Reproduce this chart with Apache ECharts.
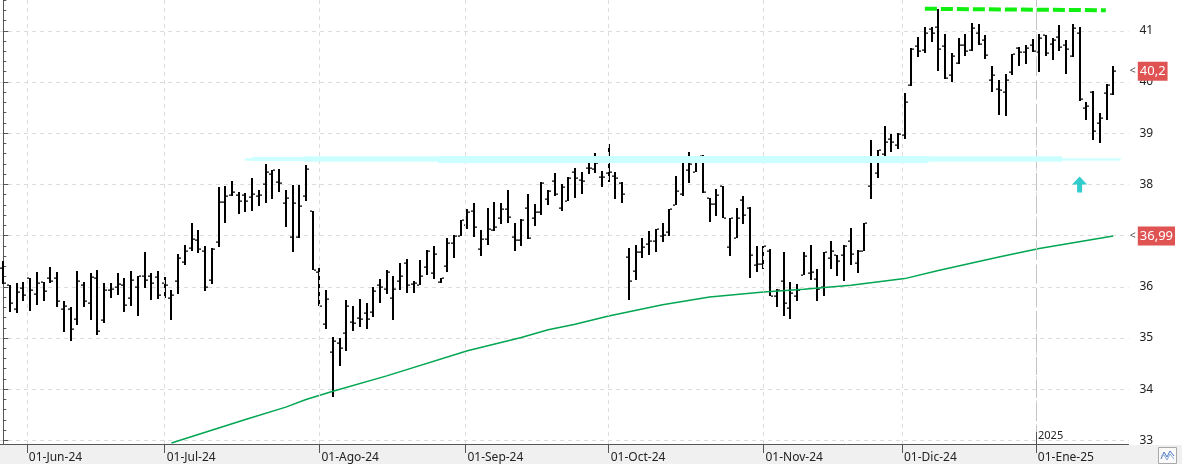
<!DOCTYPE html>
<html><head><meta charset="utf-8">
<script src="https://cdn.jsdelivr.net/npm/echarts@6/dist/echarts.min.js"></script>
<style>html,body{margin:0;padding:0;background:#fff}#c{width:1182px;height:469px}</style>
</head><body><div id="c"></div>
<script>
// ---- DATA ----
const dates = [
'28/05/24','29/05/24','30/05/24','31/05/24',
'03/06/24','04/06/24','05/06/24','06/06/24','07/06/24','10/06/24','11/06/24','12/06/24','13/06/24','14/06/24','17/06/24','18/06/24','19/06/24','20/06/24','21/06/24','24/06/24','25/06/24','26/06/24','27/06/24','28/06/24',
'01/07/24','02/07/24','03/07/24','04/07/24','05/07/24','08/07/24','09/07/24','10/07/24','11/07/24','12/07/24','15/07/24','16/07/24','17/07/24','18/07/24','19/07/24','22/07/24','23/07/24','24/07/24','25/07/24','26/07/24','29/07/24','30/07/24','31/07/24',
'01/08/24','02/08/24','05/08/24','06/08/24','07/08/24','08/08/24','09/08/24','12/08/24','13/08/24','14/08/24','15/08/24','16/08/24','19/08/24','20/08/24','21/08/24','22/08/24','23/08/24','26/08/24','27/08/24','28/08/24','29/08/24','30/08/24',
'02/09/24','03/09/24','04/09/24','05/09/24','06/09/24','09/09/24','10/09/24','11/09/24','12/09/24','13/09/24','16/09/24','17/09/24','18/09/24','19/09/24','20/09/24','23/09/24','24/09/24','25/09/24','26/09/24','27/09/24','30/09/24',
'01/10/24','02/10/24','03/10/24','04/10/24','07/10/24','08/10/24','09/10/24','10/10/24','11/10/24','14/10/24','15/10/24','16/10/24','17/10/24','18/10/24','21/10/24','22/10/24','23/10/24','24/10/24','25/10/24','28/10/24','29/10/24','30/10/24','31/10/24',
'01/11/24','04/11/24','05/11/24','06/11/24','07/11/24','08/11/24','11/11/24','12/11/24','13/11/24','14/11/24','15/11/24','18/11/24','19/11/24','20/11/24','21/11/24','22/11/24','25/11/24','26/11/24','27/11/24','28/11/24','29/11/24',
'02/12/24','03/12/24','04/12/24','05/12/24','06/12/24','09/12/24','10/12/24','11/12/24','12/12/24','13/12/24','16/12/24','17/12/24','18/12/24','19/12/24','20/12/24','23/12/24','24/12/24','27/12/24','30/12/24','31/12/24',
'02/01/25','03/01/25','06/01/25','07/01/25','08/01/25','09/01/25','10/01/25','13/01/25','14/01/25','15/01/25','16/01/25','17/01/25'];

const open = [36.37,36.03,35.57,35.97,36.17,35.86,36.09,36.18,36.18,35.57,35.57,35.37,36.03,35.69,36.18,35.35,35.94,36.00,36.03,35.78,35.99,36.21,36.21,36.20,
36.08,35.78,36.12,36.49,36.76,36.91,36.70,36.14,36.88,37.65,37.79,37.80,37.79,37.76,37.77,38.00,38.21,38.05,37.64,36.97,36.97,37.77,37.49,
36.28,35.28,34.72,34.91,35.09,35.32,35.40,35.49,35.50,36.03,35.96,35.79,36.12,36.46,36.06,36.03,36.39,36.26,36.09,36.40,36.86,37.00,
37.20,37.48,36.74,36.93,37.10,37.34,37.51,36.98,36.91,37.53,37.34,37.47,37.71,38.07,37.54,37.68,38.25,38.09,38.32,38.30,38.15,
38.23,38.17,38.02,36.59,36.30,36.67,36.83,36.89,36.99,37.07,37.60,37.81,38.28,38.25,38.56,37.74,37.62,37.97,36.77,36.95,37.69,37.54,36.43,
36.45,36.69,35.83,36.12,35.59,35.83,36.24,36.26,36.16,35.99,36.57,36.63,36.63,36.89,36.46,36.70,37.96,38.22,38.59,38.88,38.77,
38.96,39.95,40.71,40.62,41.03,41.07,40.71,40.14,40.38,40.72,40.62,40.95,40.82,40.04,39.87,39.81,40.20,40.67,40.59,40.72,
40.59,40.91,40.75,40.88,40.73,40.50,40.95,39.50,39.81,39.19,39.78,39.76];

const high = [36.50,36.03,36.08,36.10,36.18,36.28,36.10,36.38,36.28,35.73,35.60,36.30,36.10,36.26,36.32,36.08,36.08,36.26,36.18,36.30,36.22,36.67,36.26,36.30,
36.20,35.93,36.65,36.81,37.24,37.10,36.79,36.75,37.94,37.96,38.06,37.86,37.83,38.13,37.90,38.39,38.29,38.31,37.90,37.99,37.99,38.38,37.49,
36.37,35.94,35.02,35.00,35.74,35.63,35.76,35.68,36.00,36.16,36.32,36.21,36.46,36.54,36.11,36.52,36.72,36.79,36.18,36.95,37.01,37.31,
37.52,37.64,37.11,37.53,37.66,37.64,37.89,37.24,37.32,37.81,37.61,38.04,37.89,38.22,38.01,38.14,38.32,38.24,38.48,38.61,38.26,
38.79,38.25,38.04,36.76,36.82,36.95,37.09,37.13,37.24,37.52,38.17,38.46,38.63,38.52,38.58,37.74,37.91,37.97,37.35,37.53,37.77,37.55,36.79,
36.79,36.73,35.96,36.67,36.10,36.05,36.67,36.81,36.34,36.67,36.90,36.63,36.82,37.15,36.71,37.24,38.87,38.67,39.14,38.98,39.00,
39.78,40.66,40.88,41.07,41.07,41.42,40.94,40.56,40.85,40.93,41.16,41.14,40.92,40.31,40.04,40.15,40.54,40.69,40.72,40.83,
40.93,40.92,40.85,41.11,40.82,41.13,41.07,39.60,39.82,39.39,39.97,40.31];

const low = [36.06,35.50,35.49,35.73,35.52,35.65,35.72,36.08,35.60,35.11,34.94,35.25,35.60,35.35,35.06,35.30,35.78,35.84,35.50,35.62,35.43,35.98,35.74,35.76,
35.78,35.36,35.85,36.42,36.70,36.66,35.92,36.05,36.78,37.24,37.77,37.43,37.46,37.48,37.58,37.64,37.71,37.85,37.17,36.67,36.96,37.68,36.32,
35.62,35.17,33.85,34.46,34.75,35.14,35.22,35.18,35.41,35.69,35.86,35.36,35.94,35.88,35.88,36.03,36.24,36.16,36.08,36.28,36.57,36.99,
37.13,36.98,36.61,36.82,37.08,37.23,37.25,36.70,36.80,36.93,37.19,37.41,37.60,37.78,37.48,37.68,37.74,37.81,38.20,38.22,37.94,
38.04,37.72,37.64,35.74,36.13,36.56,36.62,36.68,36.88,36.99,37.59,37.77,38.02,38.25,37.84,37.27,37.38,37.34,36.60,36.95,37.22,36.17,36.29,
36.35,35.82,35.60,35.42,35.37,35.72,36.24,36.14,35.72,35.82,36.35,36.21,36.11,36.43,36.27,36.70,37.71,38.12,38.49,38.64,38.69,
38.88,39.93,40.49,40.56,40.79,40.22,40.06,39.99,40.36,40.51,40.61,40.73,40.45,39.81,39.35,39.34,40.14,40.32,40.36,40.59,
40.20,40.51,40.43,40.61,40.16,40.49,39.63,39.26,38.87,38.80,39.26,39.75];

const close = [36.07,35.69,35.90,35.84,35.94,36.08,35.92,36.12,35.73,35.63,35.18,36.12,35.72,36.20,35.14,35.94,35.95,36.06,35.64,36.14,36.21,36.14,36.08,35.84,
36.03,35.84,36.57,36.70,36.94,36.74,35.99,36.74,37.65,37.78,37.85,37.68,37.68,37.82,37.80,38.25,38.29,38.03,37.74,37.64,37.57,38.30,36.32,
35.63,35.77,34.95,34.81,35.63,35.30,35.37,35.37,35.91,35.99,36.28,35.96,36.22,36.04,36.08,36.22,36.69,36.65,36.18,36.85,36.99,37.30,
37.47,37.16,36.93,37.12,37.16,37.51,37.36,36.91,37.30,36.95,37.47,38.02,37.88,37.81,37.94,38.13,38.13,38.07,38.32,38.41,38.14,
38.24,38.13,37.81,36.12,36.67,36.78,36.89,37.12,37.02,37.51,37.88,38.45,38.39,38.50,37.85,37.62,37.79,37.34,37.34,37.35,37.40,36.62,36.45,
36.79,35.83,35.94,35.69,35.88,35.94,36.60,36.28,35.96,36.67,36.69,36.51,36.80,36.64,36.69,37.24,38.51,38.67,38.82,38.82,38.98,
39.61,40.65,40.60,40.95,40.95,40.65,40.08,40.50,40.73,40.61,41.05,40.75,40.52,40.13,39.84,40.04,40.54,40.59,40.67,40.60,
40.85,40.57,40.82,40.69,40.64,41.05,39.67,39.53,39.05,39.30,39.95,40.21];

// moving average readings: bar index -> value
const maIdx = [25,36,42,45,49,57,69,77,81,85,90,98,105,113,119,126,134,139,148,154,165];
const maVal = [32.95,33.41,33.65,33.80,33.96,34.26,34.75,35.01,35.16,35.27,35.43,35.65,35.80,35.90,35.95,36.03,36.16,36.32,36.58,36.75,36.99];

// x-axis month ticks (bar-index positions) and labels
const tickLabels = ['01-Jun-24','01-Jul-24','01-Ago-24','01-Sep-24','01-Oct-24','01-Nov-24','01-Dic-24','01-Ene-25'];
const tickPos = [3.5, 24, 47, 68.7, 90, 113, 133.6, 153.5];
const yearPos = 153.5, yearLabel = '2025';

// annotations
const bandLevel = 38.5;
const bandFrom = [35.9, 37, 44.7, 64.6];
const bandTo = [166.1, 157.4, 157.4, 137.5];
const resFrom = [137, 41.43], resTo = [163.9, 41.40];
const arrowAt = [160, 38.0];

// ---- CHART ----
const FONT = "'Noto Sans', 'DejaVu Sans', sans-serif";
const chart = echarts.init(document.getElementById('c'), null, {renderer: 'canvas'});
const ohlc = dates.map((d, i) => [i, open[i], high[i], low[i], close[i]]);
const maData = maIdx.map((x, i) => [x, maVal[i]]);
const fmt = (v, d) => v.toFixed(d).replace('.', ',');
const YMIN = 32.93, YMAX = 41.64;
const bandWidths = [2.5, 4, 5.5, 7];

const option = {
  animation: false,
  backgroundColor: '#fff',
  grid: {left: 0, right: 53.5, top: -2, bottom: 25, containLabel: false, outerBoundsMode: 'none'},
  xAxis: {
    type: 'value', min: -0.49, max: 167.27,
    axisLine: {show: true, lineStyle: {color: '#555', width: 1}},
    axisTick: {show: true, customValues: tickPos, length: 9, lineStyle: {color: '#555'}},
    axisLabel: {
      show: true, customValues: tickPos,
      formatter: v => { const i = tickPos.indexOf(v); return i >= 0 ? tickLabels[i] : ''; },
      align: 'left', margin: 8, padding: [0, 0, 0, 2], color: '#222', fontSize: 12, fontFamily: FONT
    },
    splitLine: {show: false}
  },
  yAxis: {
    type: 'value', position: 'right', min: YMIN, max: YMAX, splitNumber: 9, minInterval: 1, maxInterval: 1,
    axisLine: {show: true, lineStyle: {color: '#555'}},
    axisTick: {show: true, length: 5, lineStyle: {color: '#555'}},
    minorTick: {show: true, splitNumber: 5, length: 3, lineStyle: {color: '#555'}},
    axisLabel: {margin: 11, color: '#222', fontSize: 12, fontFamily: FONT,
      formatter: v => Math.abs(v - Math.round(v)) < 1e-6 ? String(Math.round(v)) : ''},
    splitLine: {show: true, lineStyle: {color: '#dcdcdc', type: [4, 4], width: 1}}
  },
  series: [
    { // vertical grid lines
      type: 'line', z: 1, data: [[0, 36]], symbol: 'none', lineStyle: {opacity: 0}, silent: true,
      markLine: {
        silent: true, symbol: ['none', 'none'], label: {show: false},
        lineStyle: {color: '#dcdcdc', type: [4, 4], width: 1},
        data: tickPos.map(v => ({xAxis: v})).concat([{xAxis: yearPos, lineStyle: {color: '#c4c4c4', type: [18, 5], width: 1}}])
      }
    },
    { // support band + resistance
      type: 'line', z: 2, data: [[0, 36]], symbol: 'none', lineStyle: {opacity: 0}, silent: true,
      markLine: {
        silent: true, symbol: ['none', 'none'], label: {show: false},
        data: bandFrom.map((f, i) => [
          {coord: [f, bandLevel], lineStyle: {color: '#ccffff', width: bandWidths[i], type: 'solid'}},
          {coord: [bandTo[i], bandLevel]}
        ]).concat([[
          {coord: resFrom, lineStyle: {color: '#11ee11', width: 4, type: [12, 4]}},
          {coord: resTo}
        ]])
      }
    },
    { // OHLC bars
      type: 'custom', z: 3, data: ohlc, encode: {x: 0, y: [1, 2, 3, 4]},
      renderItem: function (params, api) {
        const i = api.value(0);
        const pO = api.coord([i, api.value(1)]);
        const pH = api.coord([i, api.value(2)]);
        const pL = api.coord([i, api.value(3)]);
        const pC = api.coord([i, api.value(4)]);
        const cx = Math.round(pH[0]);
        const st = {fill: '#000'};
        return {type: 'group', children: [
          {type: 'rect', shape: {x: cx - 1, y: Math.round(pH[1]), width: 2, height: Math.max(1, Math.round(pL[1]) - Math.round(pH[1]))}, style: st},
          {type: 'rect', shape: {x: cx - 3, y: Math.round(pO[1]) - 0.5, width: 2, height: 1.2}, style: st},
          {type: 'rect', shape: {x: cx + 1, y: Math.round(pC[1]) - 0.5, width: 2, height: 1.2}, style: st}
        ]};
      }
    },
    { // moving average
      type: 'line', z: 4, data: maData, symbol: 'none', showSymbol: false, clip: true,
      lineStyle: {color: '#00a651', width: 1.5}
    },
    { // price labels + arrow
      type: 'line', z: 6, data: [[0, 36]], symbol: 'none', lineStyle: {opacity: 0}, clip: false, silent: true,
      markLine: {
        silent: true, symbol: ['none', 'none'],
        lineStyle: {color: 'rgba(0,0,0,0)', width: 1, opacity: 1},
        label: {
          show: true, position: 'end', distance: 1, opacity: 1,
          rich: {
            a: {color: '#555', fontSize: 11, fontFamily: FONT, padding: [0, 2, 0, 0]},
            b: {color: '#fff', backgroundColor: '#e05353', fontSize: 13, fontFamily: FONT, padding: [3, 2, 3, 2]}
          }
        },
        data: [
          {yAxis: close[close.length - 1], label: {formatter: '{a|<}{b|' + fmt(close[close.length - 1], 1) + '}'}},
          {yAxis: maVal[maVal.length - 1], label: {formatter: '{a|<}{b|' + fmt(maVal[maVal.length - 1], 2) + '}'}}
        ]
      },
      markPoint: {
        silent: true,
        data: [{coord: arrowAt, symbol: 'path://M7.5,0 L15,8 L10,8 L10,16 L5,16 L5,8 L0,8 Z', symbolSize: [15, 16],
          itemStyle: {color: '#33cccc'}, label: {show: false}}]
      }
    }
  ]
};
chart.setOption(option);

// decorations positioned via the chart's own scales
const pYear = chart.convertToPixel({xAxisIndex: 0, yAxisIndex: 0}, [yearPos, YMIN]);
chart.setOption({
  graphic: [
    {type: 'rect', z: -10, shape: {x: 0, y: 445, width: 1182, height: 19}, style: {fill: '#f0f0f0'}, silent: true},
    {type: 'rect', z: 10, shape: {x: 1158.5, y: 447.5, width: 18, height: 16}, style: {fill: '#fbfbfb', stroke: '#a8a8a8', lineWidth: 1}},
    {type: 'polyline', z: 11, shape: {points: [[1161, 459], [1164, 452], [1167, 457], [1170, 451], [1174, 456]]}, style: {stroke: '#4a78c2', lineWidth: 1, fill: null}},
    {type: 'polyline', z: 11, shape: {points: [[1161, 456], [1164, 455], [1167, 460], [1170, 454], [1174, 459]]}, style: {stroke: '#8aa8d8', lineWidth: 1, fill: null}},
    {type: 'line', z: 10, shape: {x1: Math.round(pYear[0]) + 0.5, y1: pYear[1] - 12, x2: Math.round(pYear[0]) + 0.5, y2: pYear[1]}, style: {stroke: '#555', lineWidth: 1}},
    {type: 'text', z: 10, x: Math.round(pYear[0]) + 2, y: pYear[1] - 14, style: {text: yearLabel, fill: '#222', font: '11px ' + FONT, textAlign: 'left', textVerticalAlign: 'top'}}
  ]
});
</script>
</body></html>
